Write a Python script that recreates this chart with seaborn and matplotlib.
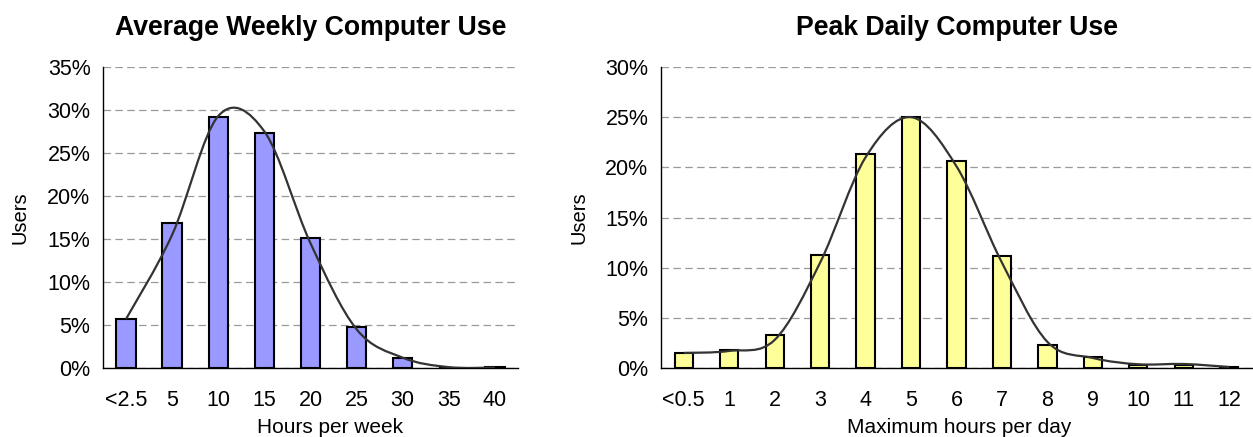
import matplotlib
matplotlib.use("Agg")
import matplotlib.pyplot as plt
from matplotlib.path import Path
from matplotlib.patches import PathPatch
from matplotlib.ticker import FixedLocator, FuncFormatter
import numpy as np
import pandas as pd
import seaborn as sns

# data (percent of users)
weekly_labels = ["<2.5", "5", "10", "15", "20", "25", "30", "35", "40"]
weekly_share = [5.7, 16.9, 29.2, 27.3, 15.1, 4.8, 1.2, 0.05, 0.1]
weekly_fit = [5.7, 15.5, 29.3, 27.5, 14.5, 4.5, 1.2, 0.1, 0.05]

daily_labels = ["<0.5", "1", "2", "3", "4", "5", "6", "7", "8", "9", "10", "11", "12"]
daily_share = [1.5, 1.75, 3.3, 11.3, 21.3, 25.0, 20.6, 11.2, 2.3, 1.05, 0.25, 0.3, 0.1]
daily_fit = [1.5, 1.7, 2.8, 10.5, 21.0, 25.0, 20.1, 10.5, 2.6, 1.0, 0.37, 0.4, 0.1]

sns.set_style("white")
plt.rcParams["font.family"] = ["Liberation Sans", "DejaVu Sans"]
plt.rcParams.update({"text.color": "black", "axes.labelcolor": "black",
                     "xtick.color": "black", "ytick.color": "black"})


def smooth_path(ys):
    # Excel-style smoothed line: cubic bezier through each point
    pts = np.column_stack([np.arange(len(ys)), ys]).astype(float)
    padded = np.vstack([pts[0], pts, pts[-1]])
    verts = [pts[0]]
    codes = [Path.MOVETO]
    for i in range(len(pts) - 1):
        p0, p1, p2, p3 = padded[i], padded[i + 1], padded[i + 2], padded[i + 3]
        verts += [p1 + (p2 - p0) / 6, p2 - (p3 - p1) / 6, p2]
        codes += [Path.CURVE4] * 3
    return Path(verts, codes)


def draw_panel(ax, labels, share, fit, color, width, ymax, title, xlabel, ylabelpad, xlabel_x):
    df = pd.DataFrame({"label": labels, "share": share})
    sns.barplot(data=df, x="label", y="share", color=color, saturation=1,
                width=width, edgecolor="black", linewidth=1.5, ax=ax, zorder=2)
    ax.add_patch(PathPatch(smooth_path(fit), facecolor="none", edgecolor="#333333",
                           linewidth=1.6, zorder=3))
    n = len(labels)
    ax.set_xlim(-0.5, n - 0.5)
    ax.set_ylim(0, ymax)
    ax.yaxis.set_major_locator(FixedLocator(np.arange(0, ymax + 1, 5)))
    ax.yaxis.set_major_formatter(FuncFormatter(lambda v, p: f"{v:.0f}%"))
    ax.xaxis.set_minor_locator(FixedLocator(np.arange(n + 1) - 0.5))
    ax.tick_params(axis="x", which="major", length=0, pad=16, labelsize=15.5)
    ax.tick_params(axis="x", which="minor", length=6, width=1, color="black", direction="out")
    ax.tick_params(axis="y", length=6, width=1, color="black", direction="out", labelsize=15.5, pad=3)
    ax.grid(axis="y", color="#999999", linestyle=(0, (6, 3.5)), linewidth=0.9)
    ax.set_axisbelow(True)
    for side in ["top", "right"]:
        ax.spines[side].set_visible(False)
    for side in ["left", "bottom"]:
        ax.spines[side].set_color("black")
        ax.spines[side].set_linewidth(1)
    ax.set_title(title, fontsize=19.2, fontweight="bold", pad=23)
    ax.set_xlabel(xlabel, fontsize=15, labelpad=6)
    ax.xaxis.set_label_coords(xlabel_x, -0.165)
    ax.xaxis.label.set_va("top")
    ax.set_ylabel("Users", fontsize=14.5, labelpad=ylabelpad)


fig = plt.figure(figsize=(12.53, 4.37), dpi=100)
ax1 = fig.add_axes([103 / 1253, 1 - 368 / 437, 415 / 1253, 301 / 437])
ax2 = fig.add_axes([661 / 1253, 1 - 368 / 437, 591 / 1253, 301 / 437])

draw_panel(ax1, weekly_labels, weekly_share, weekly_fit, "#9999FF", 0.42, 35,
           "Average Weekly Computer Use", "Hours per week", 13, 0.547)
draw_panel(ax2, daily_labels, daily_share, daily_fit, "#FFFF99", 0.4, 30,
           "Peak Daily Computer Use", "Maximum hours per day", 12, 0.505)

fig.savefig("out.png", dpi=100)
